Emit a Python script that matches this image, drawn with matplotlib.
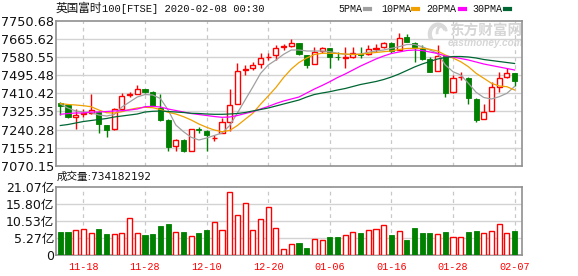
import numpy as np
import matplotlib
matplotlib.use("Agg")
import matplotlib.pyplot as plt
from matplotlib.patches import Arc

# ---------------- data ----------------
dates = ["11-13","11-14","11-15","11-18","11-19","11-20","11-21","11-22","11-25","11-26",
         "11-27","11-28","11-29","12-02","12-03","12-04","12-05","12-06","12-09","12-10",
         "12-11","12-12","12-13","12-16","12-17","12-18","12-19","12-20","12-23","12-24",
         "12-27","12-30","12-31","01-02","01-03","01-06","01-07","01-08","01-09","01-10",
         "01-13","01-14","01-15","01-16","01-17","01-20","01-21","01-22","01-23","01-24",
         "01-27","01-28","01-29","01-30","01-31","02-03","02-04","02-05","02-06","02-07"]

opens = [7366.7,7355.9,7298.1,7314.5,7316.9,7324.4,7261.9,7241.7,7335.7,7402.9,
         7407.6,7429.7,7418.4,7343.2,7285.4,7163.2,7191.4,7141.1,7243.1,7233.7,
         7199.4,7225.7,7277.4,7360.6,7520.4,7528.4,7547.2,7581.5,7590.9,7630.8,
         7634.6,7645.9,7590.9,7547.2,7609.7,7622.4,7583.8,7576.8,7580.1,7596.5,
         7594.2,7620.5,7627.1,7645.9,7614.4,7676.9,7648.7,7622.4,7572.1,7515.7,
         7586.2,7415.6,7487.5,7484.2,7384.1,7290.1,7329.1,7441.9,7486.1,7504.9]
closes = [7352.6,7298.1,7308.9,7318.3,7332.4,7265.2,7238.4,7335.7,7398.2,7406.2,
          7429.7,7418.4,7352.6,7285.4,7157.1,7191.4,7141.1,7241.7,7239.3,7214.9,
          7203.1,7274.6,7354.5,7517.1,7523.7,7543.9,7575.4,7583.8,7625.2,7633.2,
          7645.9,7594.2,7543.9,7603.6,7622.4,7582.9,7581.5,7580.1,7602.6,7593.2,
          7619.1,7623.8,7645.9,7611.1,7672.2,7653.4,7622.4,7572.1,7512.4,7586.2,
          7410.9,7484.2,7489.8,7387.4,7285.4,7324.4,7441.9,7481.4,7504.9,7468.7]
highs = [7370.0,7358.2,7335.7,7335.7,7407.6,7327.7,7264.2,7343.2,7410.9,7418.4,
         7449.9,7433.4,7421.7,7407.6,7290.1,7196.1,7196.1,7243.1,7253.9,7238.4,
         7214.9,7293.4,7429.7,7553.3,7543.9,7559.4,7598.9,7598.9,7637.9,7641.2,
         7666.1,7647.3,7593.2,7627.1,7629.9,7626.1,7603.6,7628.5,7627.1,7629.9,
         7637.9,7641.2,7653.4,7653.4,7692.9,7688.2,7652.0,7637.9,7582.9,7637.9,
         7588.5,7496.9,7509.6,7487.5,7386.5,7359.2,7465.4,7512.4,7528.4,7508.6]
lows = [7308.9,7294.8,7243.1,7298.1,7312.2,7222.9,7204.1,7238.4,7334.7,7394.9,
        7406.2,7414.6,7351.2,7280.7,7139.7,7141.1,7136.4,7139.7,7225.7,7141.1,
        7186.7,7222.9,7233.7,7359.2,7496.9,7520.4,7528.4,7567.4,7567.4,7614.4,
        7627.1,7590.9,7531.2,7546.3,7598.9,7531.2,7567.4,7528.4,7579.1,7575.4,
        7593.2,7603.6,7622.4,7598.9,7613.0,7652.0,7559.4,7567.4,7509.6,7514.3,
        7394.9,7414.6,7473.4,7360.6,7277.4,7288.7,7327.7,7415.6,7485.1,7446.6]

# volume in 亿
volumes = [7.0,7.0,7.6,7.9,6.7,7.9,6.4,6.4,6.7,11.3,
           6.7,6.2,6.4,8.9,9.6,7.0,7.0,5.8,6.7,7.6,
           10.3,7.6,19.5,12.3,15.9,7.6,11.0,14.7,8.2,1.8,
           3.3,3.7,2.2,4.8,4.5,5.5,5.5,6.1,7.0,6.8,
           7.6,7.9,9.2,6.1,7.3,4.5,8.2,6.8,6.8,6.4,
           7.0,5.5,5.5,7.0,7.3,6.7,7.3,9.5,6.7,7.3]

ma5 = [7360.6,7341.8,7327.7,7323.0,7320.6,7308.9,7304.2,7311.1,7346.5,7370.0,
       7393.5,7405.3,7402.9,7386.4,7332.4,7261.9,7230.4,7204.1,7191.4,7200.8,
       7212.6,7224.3,7259.5,7318.3,7379.4,7440.5,7503.9,7543.9,7567.4,7594.2,
       7614.4,7614.4,7609.7,7609.7,7609.7,7606.4,7598.9,7594.2,7593.2,7595.6,
       7603.6,7609.7,7614.4,7622.4,7629.9,7640.2,7640.2,7629.9,7614.4,7598.9,
       7543.9,7512.4,7496.9,7457.9,7415.6,7391.1,7384.1,7394.9,7410.9,7442.9]
ma10 = [7362.9,7358.2,7355.9,7352.6,7347.9,7332.4,7319.7,7318.3,7324.4,7334.7,
        7341.8,7345.1,7343.2,7334.7,7321.6,7313.6,7301.0,7285.4,7266.6,7251.1,
        7238.4,7230.4,7236.0,7259.5,7288.7,7316.9,7359.2,7398.2,7438.1,7485.1,
        7525.1,7555.6,7576.8,7593.2,7598.9,7598.9,7597.9,7595.6,7593.2,7594.2,
        7598.9,7602.6,7606.4,7609.7,7616.7,7621.5,7622.4,7622.4,7617.7,7609.7,
        7590.9,7576.8,7559.4,7535.9,7504.9,7481.4,7457.9,7445.2,7441.9,7426.4]
ma20 = [7312.2,7315.9,7318.3,7318.3,7323.0,7323.0,7325.3,7327.7,7329.1,7332.4,
        7337.1,7347.9,7349.8,7346.5,7337.1,7330.0,7323.0,7315.9,7311.1,7306.5,
        7301.8,7298.1,7299.5,7306.5,7315.9,7324.4,7337.1,7348.9,7362.9,7374.7,
        7384.1,7393.5,7412.3,7431.1,7447.6,7465.4,7485.1,7501.6,7520.4,7539.2,
        7555.6,7572.1,7586.2,7597.9,7605.0,7612.0,7614.4,7612.0,7604.9,7597.9,
        7586.2,7581.5,7574.4,7567.4,7558.0,7548.6,7541.5,7534.5,7527.4,7520.4]
ma30 = [7259.5,7264.2,7271.3,7278.3,7283.0,7287.7,7292.4,7299.5,7304.2,7308.9,
        7313.6,7323.0,7326.3,7327.7,7325.3,7323.0,7320.6,7316.9,7315.9,7313.6,
        7312.2,7312.2,7313.6,7315.9,7320.6,7327.7,7334.7,7341.8,7351.2,7360.6,
        7370.0,7379.4,7393.5,7405.3,7412.3,7418.4,7426.4,7433.4,7442.9,7452.3,
        7459.3,7466.4,7475.7,7487.5,7501.6,7518.0,7534.5,7548.6,7560.3,7572.1,
        7579.1,7583.8,7583.8,7581.5,7576.8,7569.7,7565.0,7560.3,7555.6,7551.0]

price_ticks = [7070.15,7155.21,7240.28,7325.35,7410.42,7495.48,7580.55,7665.62,7750.68]
vol_ticks = [0,5.27,10.53,15.80,21.07]
vol_labels = ["0","5.27亿","10.53亿","15.80亿","21.07亿"]
date_tick_idx = [3,11,19,27,35,43,51,59]

title_cn = "英国富时"
title_en = "100[FTSE] 2020-02-08 00:30"
vol_text = "成交量:734182192"
ma_names = ["5PMA","10PMA","20PMA","30PMA"]

# ---------------- style ----------------
RED = "#ff0000"
GREEN = "#008000"
MA_COLORS = ["#a0a0a0", "#f0a000", "#ff00ff", "#006633"]
GRID = "#d3d3d3"
SPINE = "#909090"
WM = "#d6d6d6"

W, H = 578, 276
fig = plt.figure(figsize=(W/100, H/100), dpi=100)

def fx(px): return px / W
def fy(py): return 1 - py / H

AX_L, AX_R, AX_T, AX_B = 56, 522.3, 21, 165.8
ax = fig.add_axes([fx(AX_L), fy(AX_B), fx(AX_R-AX_L), (AX_B-AX_T)/H])
axv = fig.add_axes([fx(AX_L), fy(255), fx(AX_R-AX_L), (255-186.6)/H])

def axf(px, py):
    return ((px-AX_L)/(AX_R-AX_L), (AX_B-py)/(AX_B-AX_T))

n = len(closes)
x = np.arange(n)
o = np.array(opens); c = np.array(closes); h = np.array(highs); l = np.array(lows)
up = c >= o
bw = 0.66

for a in (ax, axv):
    a.set_xlim(-0.56, 60.0)
    for s in a.spines.values():
        s.set_color(SPINE)
        s.set_linewidth(1.2)
    for i in date_tick_idx:
        a.axvline(i, color="#c8c8c8", lw=0.9, ls=(0, (3, 3)), zorder=0)
    a.tick_params(length=0)

# main price axes
ax.set_ylim(price_ticks[0], price_ticks[-1])
ax.set_yticks(price_ticks)
ax.set_yticklabels([f"{v:.2f}" for v in price_ticks], fontsize=9.3, color="#111111",
                   family="DejaVu Sans")
ax.tick_params(axis="y", pad=1.5)
ax.set_xticks([])
for v in price_ticks[1:-1]:
    ax.axhline(v, color=GRID, lw=1.0, zorder=0)

# watermark
wx, wy = axf(486, 30.5)
ax.text(wx, wy, "东方财富网", transform=ax.transAxes, ha="center", va="center",
        fontsize=10.5, color=WM, family="Noto Sans CJK SC", fontweight="bold", zorder=1)
wx, wy = axf(486, 43)
ax.text(wx, wy, "eastmoney.com", transform=ax.transAxes, ha="center", va="center",
        fontsize=7.2, color=WM, family="Liberation Sans", fontweight="bold",
        fontstyle="italic", zorder=1)
lx, ly = axf(438, 34)
ax.add_patch(Arc((lx, ly), 0.035, 0.13, angle=0, theta1=60, theta2=250,
                 transform=ax.transAxes, color="#dadada", lw=3.0, zorder=1))
ax.add_patch(Arc((lx + 0.008, ly + 0.01), 0.02, 0.09, angle=0, theta1=40, theta2=230,
                 transform=ax.transAxes, color="#dadada", lw=2.0, zorder=1))

# wicks
ax.vlines(x[up], l[up], h[up], color=RED, lw=1.0, zorder=2)
ax.vlines(x[~up], l[~up], h[~up], color=GREEN, lw=1.0, zorder=2)
# bodies
minh = 1.5
body_up = np.maximum(c - o, minh)
body_dn = np.maximum(o - c, minh)
ax.bar(x[up], body_up[up], bottom=o[up], width=bw, facecolor="white",
       edgecolor=RED, linewidth=1.0, zorder=3)
ax.bar(x[~up], body_dn[~up], bottom=c[~up], width=bw, facecolor=GREEN,
       edgecolor=GREEN, linewidth=0.6, zorder=3)

for vals, col in zip([ma5, ma10, ma20, ma30], MA_COLORS):
    ax.plot(x, vals, color=col, lw=0.9, zorder=4)

# volume axes
v = np.array(volumes)
axv.set_ylim(0, vol_ticks[-1])
axv.set_yticks(vol_ticks)
axv.set_yticklabels(vol_labels, fontsize=9.0, color="#111111",
                    family=["DejaVu Sans", "Noto Sans CJK SC"])
axv.tick_params(axis="y", pad=1.5)
for t in vol_ticks[1:-1]:
    axv.axhline(t, color=GRID, lw=1.0, zorder=0)
axv.bar(x[up], v[up], width=bw, facecolor="white", edgecolor=RED, linewidth=1.0, zorder=3)
axv.bar(x[~up], v[~up], width=bw, facecolor=GREEN, edgecolor=GREEN, linewidth=0.6, zorder=3)
axv.set_xticks(date_tick_idx)
axv.set_xticklabels([dates[i] for i in date_tick_idx], fontsize=7.3, color=RED,
                    family="Liberation Mono")
axv.tick_params(axis="x", pad=5)

# texts
fig.text(fx(56), fy(8.5), title_cn, fontsize=8.4, va="center", ha="left", color="#111111",
         family="Noto Sans CJK SC")
fig.text(fx(102), fy(8.5), title_en, fontsize=7.6, va="center", ha="left", color="#111111",
         family="Liberation Mono")
fig.text(fx(57), fy(177), vol_text, fontsize=7.6, va="center", ha="left", color="#111111",
         family=["DejaVu Sans", "Noto Sans CJK SC"])

# legend (manual)
leg_x = [338, 381, 426, 472]
dash_x = [365, 413, 460, 505]
for name, lx_, dx, col in zip(ma_names, leg_x, dash_x, MA_COLORS):
    fig.text(fx(lx_), fy(8.5), name, fontsize=7.2, va="center", ha="left", color="#111111",
             family="Liberation Mono")
    fig.add_artist(plt.Line2D([fx(dx), fx(dx + 5)], [fy(8.5), fy(8.5)], color=col, lw=3,
                              transform=fig.transFigure))

fig.savefig("out.png", dpi=100)
